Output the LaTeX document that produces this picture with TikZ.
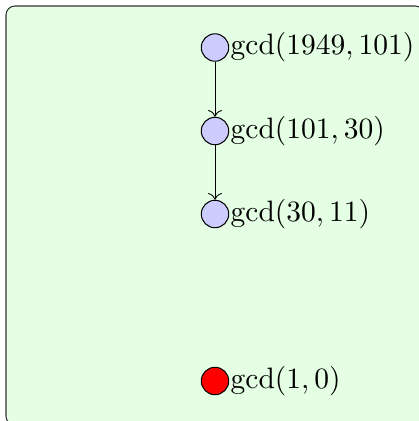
\documentclass[tikz,border=0pt]{standalone}
\usetikzlibrary{arrows.meta}
\begin{document}
\begin{tikzpicture}[x=0.339pt,y=-0.339pt,
  frame/.style={draw=black!80,fill=green!10,rounded corners=3pt,line width=0.35pt},
  gnode/.style={circle,draw,line width=0.35pt,fill=blue!20,minimum size=9.3pt,inner sep=0pt,label={[inner sep=0.3pt]right:#1}},
  rnode/.style={circle,draw,line width=0.35pt,fill=red,minimum size=9.3pt,inner sep=0pt,label={[inner sep=0.3pt]right:#1}},
  conn/.style={->,line width=0.3pt}]
\useasboundingbox (0,0) rectangle (419,421);
\draw[frame] (6,6) rectangle (424,425);
\node[gnode={$\gcd(1949,101)$}] (a) at (215,47.5) {};
\node[gnode={$\gcd(101,30)$}] (b) at (215,131) {};
\node[gnode={$\gcd(30,11)$}] (c) at (215,214) {};
\node[rnode={$\gcd(1,0)$}] (d) at (215,381) {};
\draw[conn] (a) -- (b);
\draw[conn] (b) -- (c);
\end{tikzpicture}
\end{document}
